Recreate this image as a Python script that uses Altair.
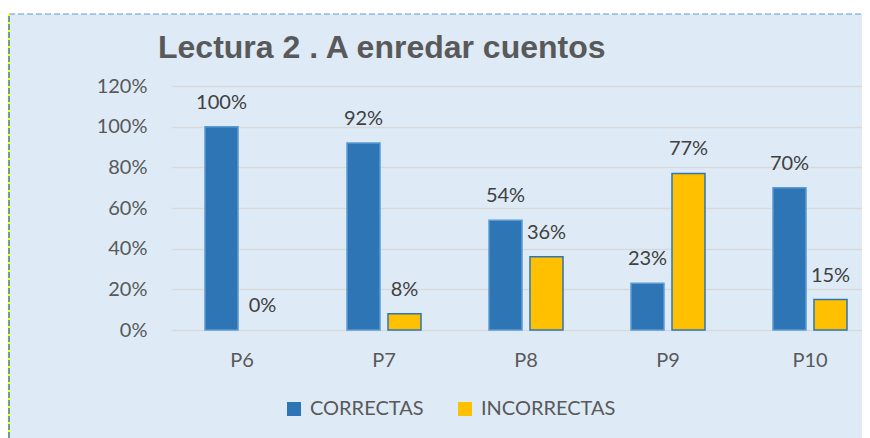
import altair as alt
import pandas as pd

categories = ["P6", "P7", "P8", "P9", "P10"]
series = ["CORRECTAS", "INCORRECTAS"]
correctas = [1.00, 0.92, 0.54, 0.23, 0.70]
incorrectas = [0.00, 0.08, 0.36, 0.77, 0.15]
y_ticks = [0, 0.2, 0.4, 0.6, 0.8, 1.0, 1.2]
chart_title = "Lectura 2 . A enredar cuentos"

rows = []
for i, c in enumerate(categories):
    rows.append({"pregunta": c, "serie": series[0], "valor": correctas[i]})
    rows.append({"pregunta": c, "serie": series[1], "valor": incorrectas[i]})
df = pd.DataFrame(rows)

W, H = 691, 244
FONT = "Lato"
TXT = "#595959"

x_enc = alt.X(
    "pregunta:N",
    sort=categories,
    scale=alt.Scale(domain=categories, range=[0, 710], paddingInner=0, paddingOuter=0),
    axis=alt.Axis(title=None, labelAngle=0, ticks=False, domain=False,
                  labelFont=FONT, labelFontSize=20, labelColor=TXT, labelPadding=20),
)
xo_enc = alt.XOffset(
    "serie:N", sort=series,
    scale=alt.Scale(domain=series, paddingInner=0.195, paddingOuter=0.829),
)
y_enc = alt.Y(
    "valor:Q",
    scale=alt.Scale(domain=[0, 1.2], nice=False),
    axis=alt.Axis(values=y_ticks, format=".0%", title=None, domain=False, ticks=False,
                  labelPadding=24, labelFont=FONT, labelFontSize=20, labelColor=TXT,
                  gridColor="#D9D9D9", gridWidth=1.5),
)

base = alt.Chart(df)

bars = base.mark_bar(strokeWidth=1.5).encode(
    x=x_enc,
    xOffset=xo_enc,
    y=y_enc,
    color=alt.Color(
        "serie:N",
        scale=alt.Scale(domain=series, range=["#2E75B6", "#FFC000"]),
        legend=alt.Legend(orient="none", legendX=113, legendY=313, direction="horizontal",
                          title=None, symbolType="square", symbolSize=196, symbolStrokeWidth=0,
                          labelFont=FONT, labelFontSize=20, labelColor=TXT, labelOffset=6,
                          columnPadding=31, padding=0),
    ),
    stroke=alt.Stroke("serie:N", scale=alt.Scale(domain=series, range=["#5B9BD5", "#2E75B6"]),
                      legend=None),
    strokeOpacity=alt.condition("datum.valor > 0", alt.value(1), alt.value(0)),
)

labels = base.mark_text(dy=-18, baseline="alphabetic", font=FONT, fontSize=20,
                        color="#404040").encode(
    x=x_enc,
    xOffset=xo_enc,
    y=y_enc,
    text=alt.Text("valor:Q", format=".0%"),
)

one = alt.Data(values=[{"k": 1}])
top_strip = alt.Chart(one).mark_rect(color="white").encode(
    x=alt.value(-163), x2=alt.value(W), y=alt.value(-78), y2=alt.value(-72)
)
top_border = alt.Chart(one).mark_rule(color="#5B9BD5", strokeDash=[6, 3], strokeWidth=1).encode(
    x=alt.value(-162), x2=alt.value(W), y=alt.value(-72)
)
left_border = alt.Chart(one).mark_rule(color="#6E9F8A", strokeWidth=2).encode(
    x=alt.value(-162), y=alt.value(-72), y2=alt.value(360)
)
left_dash = alt.Chart(one).mark_rule(color="#FFFF00", strokeWidth=2, strokeDash=[2, 6]).encode(
    x=alt.value(-162), y=alt.value(-72), y2=alt.value(360)
)
title_text = alt.Chart(one).mark_text(
    align="left", baseline="alphabetic", font="Liberation Sans", fontSize=32,
    fontWeight="bold", color=TXT,
).encode(x=alt.value(-13), y=alt.value(-28), text=alt.value(chart_title))

chart = alt.layer(bars, labels, top_strip, top_border, left_border, left_dash,
                  title_text).properties(
    width=W,
    height=H,
    autosize=alt.AutoSizeParams(type="none"),
    padding={"left": 163, "top": 78, "right": 0, "bottom": 108},
).configure(background="#DEEBF7").configure_view(stroke=None)

chart.save("out.html", embed_options={"renderer": "svg", "actions": False})
